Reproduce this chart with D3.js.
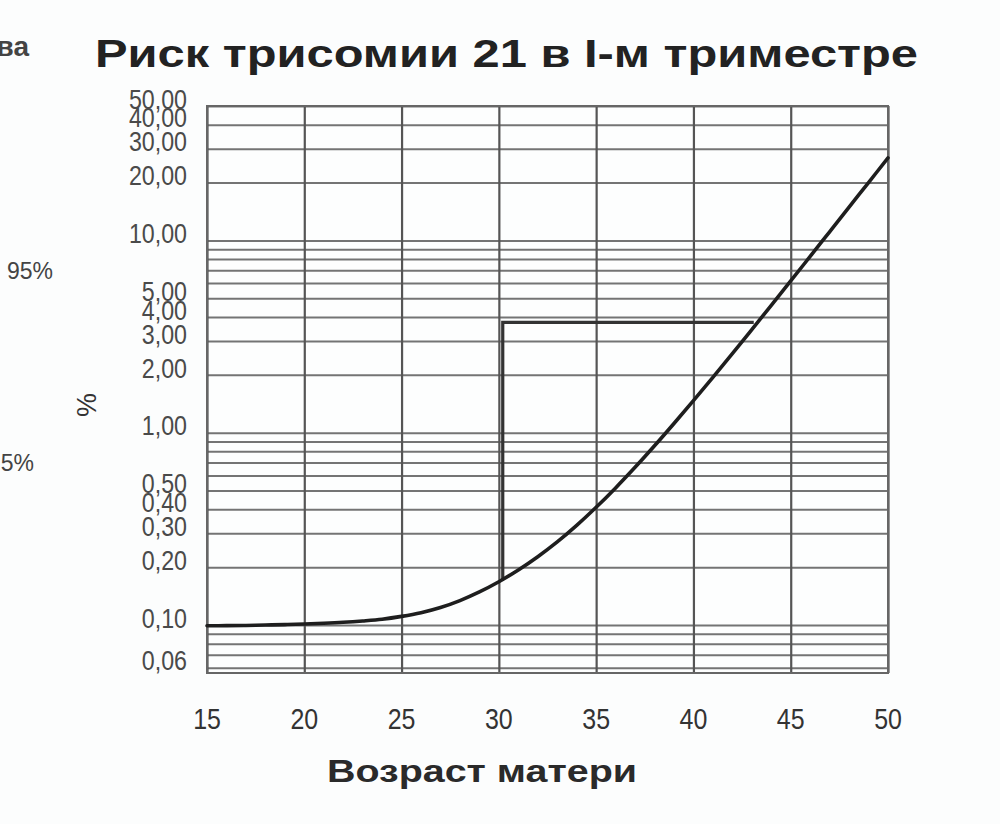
<!DOCTYPE html>
<html>
<head>
<meta charset="utf-8">
<script src="https://cdn.jsdelivr.net/npm/d3@7"></script>
<style>
  html, body { margin: 0; padding: 0; background: #fcfdfd; }
  svg { display: block; }
  text { font-family: "Liberation Sans", Arial, sans-serif; }
</style>
</head>
<body>
<svg id="chart" width="1000" height="824"></svg>
<script>
// ---- data ----
const ages = [15,16,17,18,19,20,21,22,23,24,25,26,27,28,29,30,31,32,33,34,35,36,37,38,39,40,41,42,43,44,45,46,47,48,49,50];
const risk = [0.0991,0.0993,0.0995,0.1000,0.1005,0.1012,0.1021,0.1033,0.1050,0.1072,0.1109,0.1159,0.1233,0.1340,0.1486,0.1679,0.1932,0.2265,0.2704,0.3296,0.4093,0.5164,0.6607,0.8551,1.117,1.469,1.941,2.576,3.436,4.592,6.152,8.260,11.09,14.89,20.00,26.85];
const xTicks = [15,20,25,30,35,40,45,50];
const yTickLabels = [50,40,30,20,10,5,4,3,2,1,0.5,0.4,0.3,0.2,0.1,0.06];
const yGridValues = [0.06,0.07,0.08,0.09,0.1,0.2,0.3,0.4,0.5,0.6,0.7,0.8,0.9,1,2,3,4,5,6,7,8,9,10,20,30,40,50];
// marker: from the curve at age 30.2 up to risk 3.75, across to age 43.1
const markerAges = [30.2, 30.2, 43.1];
const markerRisk = [0.173, 3.75, 3.75];

const titleText = "Риск трисомии 21 в I-м триместре";
const xTitle = "Возраст матери";
const yTitle = "%";
const sideFragments = [
  {text: "ва", x: 29, y: 56, bold: true, size: 28},
  {text: "95%", x: 53, y: 279, bold: false, size: 23},
  {text: "5%", x: 34, y: 471, bold: false, size: 23}
];

// ---- scales ----
const yMin = 0.0563, yMax = 50;
const x = d3.scaleLinear().domain([15, 50]).range([207, 888]);
const y = d3.scaleLog().domain([yMin, yMax]).range([673, 106]);

const svg = d3.select("#chart");
const W = x(50) - x(15), H = y(yMin) - y(yMax);

svg.append("rect")
  .attr("x", x(15)).attr("y", y(yMax))
  .attr("width", W).attr("height", H)
  .attr("fill", "#fdfefe");

// horizontal grid
svg.append("g")
  .attr("transform", `translate(${x(15)},0)`)
  .call(d3.axisLeft(y).tickValues(yGridValues).tickSize(-W).tickFormat(""))
  .call(g => g.select(".domain").remove())
  .call(g => g.selectAll(".tick line").attr("stroke", "#747474").attr("stroke-width", 2));

// vertical grid
svg.append("g")
  .attr("transform", `translate(0,${y(yMin)})`)
  .call(d3.axisBottom(x).tickValues(xTicks).tickSize(-H).tickFormat(""))
  .call(g => g.select(".domain").remove())
  .call(g => g.selectAll(".tick line").attr("stroke", "#555").attr("stroke-width", 2.2));

// frame
svg.append("rect")
  .attr("x", x(15)).attr("y", y(yMax))
  .attr("width", W).attr("height", H)
  .attr("fill", "none").attr("stroke", "#666").attr("stroke-width", 2);

// y tick labels (condensed)
const fmt = v => d3.format(".2f")(v).replace(".", ",");
svg.append("g")
  .selectAll("text")
  .data(yTickLabels)
  .join("text")
  .attr("x", 187)
  .attr("y", d => y(d) - 7)
  .attr("dy", "0.36em")
  .attr("text-anchor", "end")
  .attr("font-size", 27)
  .attr("fill", "#4a4a4a")
  .text(fmt)
  .each(function() {
    const w = this.getComputedTextLength();
    d3.select(this).attr("textLength", w * 0.86).attr("lengthAdjust", "spacingAndGlyphs");
  });

// x tick labels
svg.append("g")
  .selectAll("text")
  .data(xTicks)
  .join("text")
  .attr("x", d => x(d))
  .attr("y", 729)
  .attr("text-anchor", "middle")
  .attr("font-size", 29)
  .attr("fill", "#333")
  .text(d => d)
  .each(function() {
    const w = this.getComputedTextLength();
    d3.select(this).attr("textLength", w * 0.86).attr("lengthAdjust", "spacingAndGlyphs");
  });

// marker lines
svg.append("path")
  .datum(markerAges.map((a, i) => [a, markerRisk[i]]))
  .attr("fill", "none")
  .attr("stroke", "#333")
  .attr("stroke-width", 3.2)
  .attr("d", d3.line().x(d => x(d[0])).y(d => y(d[1])));

// curve
svg.append("path")
  .datum(ages.map((a, i) => [a, risk[i]]))
  .attr("fill", "none")
  .attr("stroke", "#1e1e1e")
  .attr("stroke-width", 3.6)
  .attr("stroke-linecap", "round")
  .attr("d", d3.line().curve(d3.curveCatmullRom).x(d => x(d[0])).y(d => y(d[1])));

// titles
svg.append("text")
  .attr("x", 95).attr("y", 67)
  .attr("font-size", 39).attr("font-weight", "bold").attr("fill", "#222")
  .attr("textLength", 823).attr("lengthAdjust", "spacingAndGlyphs")
  .text(titleText);

svg.append("text")
  .attr("x", 327).attr("y", 782)
  .attr("font-size", 31).attr("font-weight", "bold").attr("fill", "#2a2a2a")
  .attr("textLength", 310).attr("lengthAdjust", "spacingAndGlyphs")
  .text(xTitle);

svg.append("text")
  .attr("transform", "translate(96,405) rotate(-90)")
  .attr("text-anchor", "middle")
  .attr("font-size", 27).attr("fill", "#333")
  .text(yTitle);

// fragments of the neighbouring page at the left edge
svg.append("g")
  .selectAll("text")
  .data(sideFragments)
  .join("text")
  .attr("x", d => d.x)
  .attr("y", d => d.y)
  .attr("text-anchor", "end")
  .attr("font-size", d => d.size)
  .attr("font-weight", d => d.bold ? "bold" : "normal")
  .attr("fill", "#444")
  .text(d => d.text);
</script>
</body>
</html>
